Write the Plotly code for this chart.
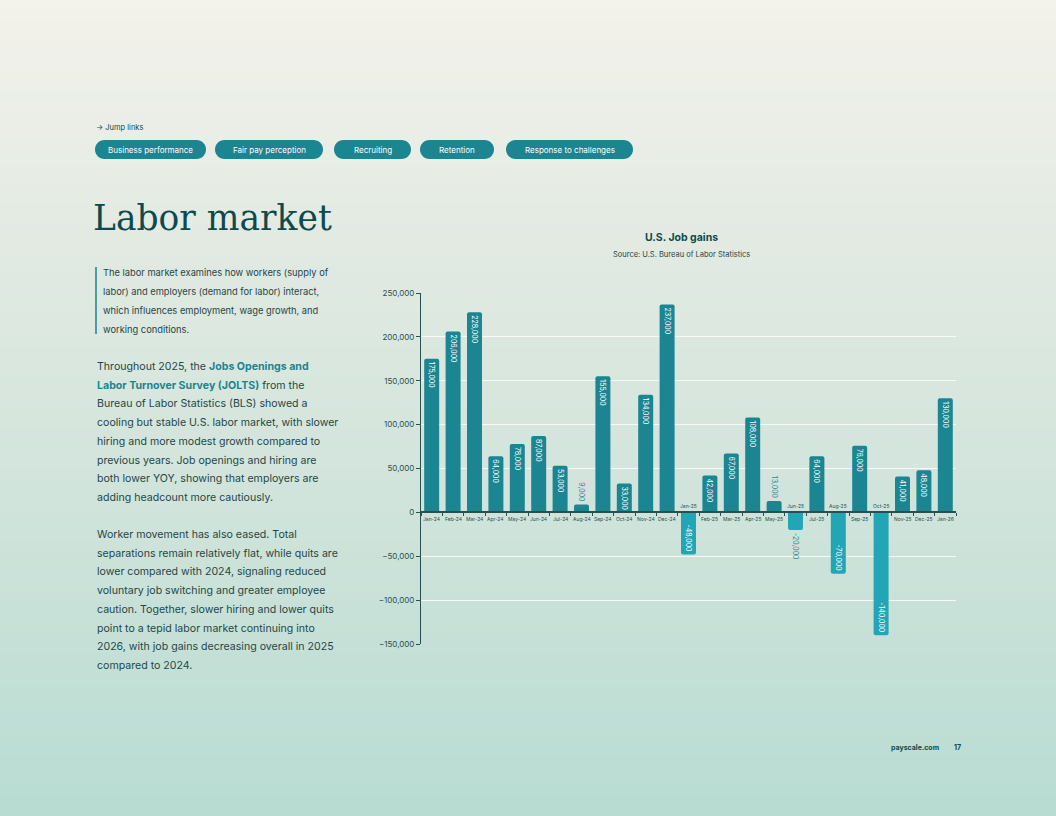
import plotly.graph_objects as go

W, H = 1056, 816

# ---- data ----
months = ["Jan-24", "Feb-24", "Mar-24", "Apr-24", "May-24", "Jun-24", "Jul-24", "Aug-24",
          "Sep-24", "Oct-24", "Nov-24", "Dec-24", "Jan-25", "Feb-25", "Mar-25", "Apr-25",
          "May-25", "Jun-25", "Jul-25", "Aug-25", "Sep-25", "Oct-25", "Nov-25", "Dec-25", "Jan-26"]
job_gains = [175000, 206000, 228000, 64000, 78000, 87000, 53000, 9000,
             155000, 33000, 134000, 237000, -48000, 42000, 67000, 108000,
             13000, -20000, 64000, -70000, 76000, -140000, 41000, 48000, 130000]
y_ticks = [-150000, -100000, -50000, 0, 50000, 100000, 150000, 200000, 250000]

jump_links = ["Business performance", "Fair pay perception", "Recruiting", "Retention",
              "Response to challenges"]

intro_lines = [
    "The labor market examines how workers (supply of",
    "labor) and employers (demand for labor) interact,",
    "which influences employment, wage growth, and",
    "working conditions.",
]
para1_lines = [
    "Throughout 2025, the <b><span style='color:#1c8490'>Jobs Openings and</span></b>",
    "<b><span style='color:#1c8490'>Labor Turnover Survey (JOLTS)</span></b> from the",
    "Bureau of Labor Statistics (BLS) showed a",
    "cooling but stable U.S. labor market, with slower",
    "hiring and more modest growth compared to",
    "previous years. Job openings and hiring are",
    "both lower YOY, showing that employers are",
    "adding headcount more cautiously.",
]
para2_lines = [
    "Worker movement has also eased. Total",
    "separations remain relatively flat, while quits are",
    "lower compared with 2024, signaling reduced",
    "voluntary job switching and greater employee",
    "caution. Together, slower hiring and lower quits",
    "point to a tepid labor market continuing into",
    "2026, with job gains decreasing overall in 2025",
    "compared to 2024.",
]

# ---- styles ----
POS = "#1b8591"
NEG = "#22a5b5"
DARK = "#0e4a4b"
BODY = "#1f4748"
AXIS = "#2a4f50"
FONT = "Inter"


def px(x):
    return x / W


def py(y):
    return 1 - y / H


def pill(x0, y0, x1, y1):
    r = (y1 - y0) / 2
    k = 0.5523 * r
    pts = [
        ("M", [(x0 + r, y0)]),
        ("L", [(x1 - r, y0)]),
        ("C", [(x1 - r + k, y0), (x1, y0 + r - k), (x1, y0 + r)]),
        ("C", [(x1, y0 + r + k), (x1 - r + k, y1), (x1 - r, y1)]),
        ("L", [(x0 + r, y1)]),
        ("C", [(x0 + r - k, y1), (x0, y0 + r + k), (x0, y0 + r)]),
        ("C", [(x0, y0 + r - k), (x0 + r - k, y0), (x0 + r, y0)]),
    ]
    s = ""
    for cmd, ps in pts:
        s += cmd + " " + " ".join(f"{px(a):.5f},{py(b):.5f}" for a, b in ps) + " "
    return s + "Z"


def page_text(x, y, text, size, color=BODY, anchor="left", family=FONT):
    # text placed in page pixels
    return dict(x=px(x), y=py(y), xref="paper", yref="paper", xanchor=anchor,
                yanchor="middle", text=text, showarrow=False,
                font=dict(family=family, size=size, color=color))


fig = go.Figure()

colors = [NEG if v < 0 else POS for v in job_gains]
positions = ["outside" if abs(v) < 25000 else "inside" for v in job_gains]
labels = [f"{v:,}" for v in job_gains]

fig.add_trace(go.Bar(
    x=months, y=job_gains,
    marker=dict(color=colors, cornerradius=2, line=dict(width=0)),
    text=labels, textposition=positions, textangle=90,
    insidetextanchor="end",
    insidetextfont=dict(family=FONT, size=7, color="white"),
    outsidetextfont=dict(family=FONT, size=7, color="#1e8e9a"),
    constraintext="none", cliponaxis=False,
    hoverinfo="x+y", showlegend=False,
))

# month labels: below the axis for gains, above for losses
annotations = []
for m, v in zip(months, job_gains):
    annotations.append(dict(
        x=m, y=0, xref="x", yref="y", text=m, showarrow=False,
        xanchor="center", yanchor="middle",
        yshift=6 if v < 0 else -7,
        font=dict(family=FONT, size=5, color=AXIS),
    ))

# chart titles
annotations.append(page_text(681, 237, "<b>U.S. Job gains</b>", 10.5, DARK, "center"))
annotations.append(page_text(681, 254, "Source: U.S. Bureau of Labor Statistics", 7.5, BODY, "center"))

# header
annotations.append(page_text(94, 127, "→ Jump links", 7.5, DARK))
annotations.append(page_text(91, 218, "Labor market", 34.5, DARK, family="DejaVu Serif"))

shapes = []

# background gradient
stops = [(0.0, (243, 242, 235)), (0.3, (226, 234, 226)), (0.65, (206, 227, 218)), (1.0, (184, 220, 210))]
n = 80
for i in range(n):
    t = (i + 0.5) / n
    for (t0, c0), (t1, c1) in zip(stops[:-1], stops[1:]):
        if t0 <= t <= t1:
            f = (t - t0) / (t1 - t0)
            c = tuple(round(a + (b - a) * f) for a, b in zip(c0, c1))
            break
    shapes.append(dict(type="rect", xref="paper", yref="paper", x0=0, x1=1,
                       y0=1 - (i + 1) / n - 0.001, y1=1 - i / n,
                       fillcolor=f"rgb{c}", line=dict(width=0), layer="below"))

# jump link pills
pill_x = [(95, 206), (215, 323), (334, 411), (420, 494), (506, 633)]
for label, (x0, x1) in zip(jump_links, pill_x):
    shapes.append(dict(type="path", xref="paper", yref="paper", path=pill(x0, 140, x1, 159),
                       fillcolor=POS, line=dict(width=0), layer="above"))
    annotations.append(page_text((x0 + x1) / 2, 149.5, label, 8, "white", "center"))

# intro quote bar
shapes.append(dict(type="line", xref="paper", yref="paper", x0=px(96), x1=px(96),
                   y0=py(267), y1=py(334), line=dict(color=POS, width=1.5)))

for i, line in enumerate(intro_lines):
    annotations.append(page_text(101, 273 + i * 18.8, line, 9.3))
for i, line in enumerate(para1_lines):
    annotations.append(page_text(95, 366.5 + i * 18.7, line, 10.6))
for i, line in enumerate(para2_lines):
    annotations.append(page_text(95, 534.5 + i * 18.7, line, 10.6))

# footer
annotations.append(page_text(941, 747, "<b>payscale.com</b>", 7, DARK, "right"))
annotations.append(page_text(952, 747, "<b>17</b>", 7, DARK))

fig.update_layout(
    width=W, height=H, autosize=False,
    margin=dict(l=0, r=0, t=0, b=0, autoexpand=False),
    paper_bgcolor="#f3f2eb", plot_bgcolor="rgba(0,0,0,0)",
    bargap=0.3,
    font=dict(family=FONT, color=AXIS),
    xaxis=dict(
        domain=[px(421), px(956)], type="category", range=[-0.5, 24.5],
        anchor="free", position=py(512), automargin=False,
        showline=True, linecolor=AXIS, linewidth=1.5,
        ticks="outside", tickson="boundaries", ticklen=3, tickwidth=1, tickcolor=AXIS,
        showticklabels=False, showgrid=False, zeroline=False, fixedrange=True,
    ),
    yaxis=dict(
        domain=[py(644), py(293)], range=[-150000, 250000], automargin=False,
        tickvals=y_ticks, tickformat=",",
        showline=True, linecolor=AXIS, linewidth=1,
        ticks="outside", ticklen=4, tickcolor=AXIS,
        tickfont=dict(family=FONT, size=8, color=AXIS),
        showgrid=True, gridcolor="rgba(255,255,255,0.8)", gridwidth=1,
        zeroline=False, fixedrange=True,
    ),
    shapes=shapes,
    annotations=annotations,
)

# keep the page exactly the size of the figure (no body margin, no extra line box)
fix_page = (
    "document.documentElement.style.overflow='hidden';"
    "document.body.style.margin='0';"
    "document.body.style.overflow='hidden';"
)
fig.write_html("out.html", config={"displayModeBar": False}, post_script=fix_page)
